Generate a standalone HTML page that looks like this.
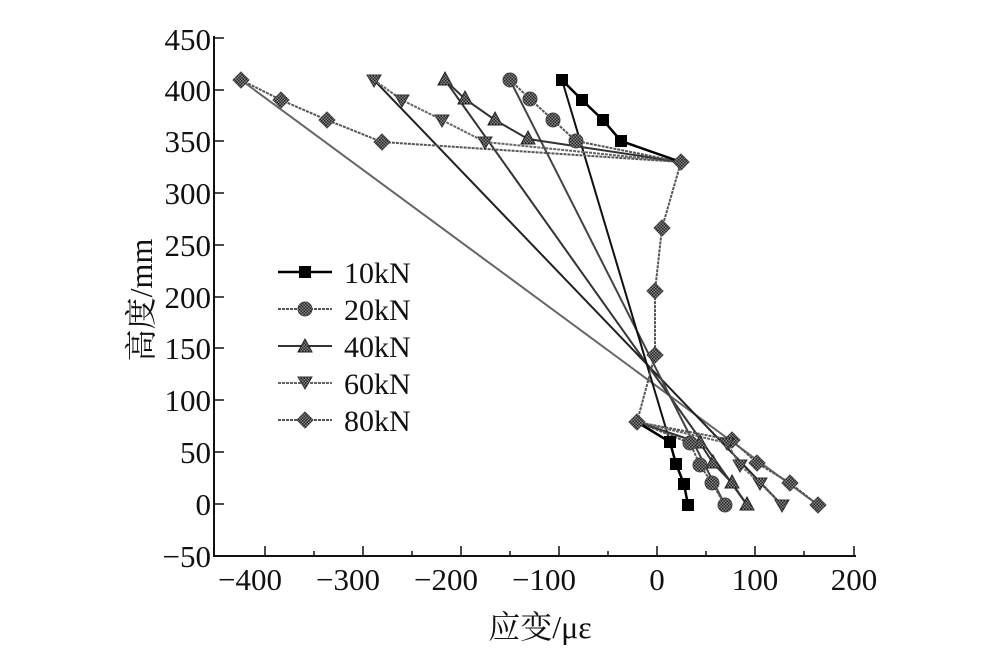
<!DOCTYPE html>
<html><head><meta charset="utf-8"><style>
body{margin:0;background:#fff}
text{font-family:"Liberation Serif","Noto Serif CJK SC",serif;fill:#111}
</style></head><body>
<svg width="1000" height="662" viewBox="0 0 1000 662" xmlns="http://www.w3.org/2000/svg">
<defs>
<pattern id="chk" width="3" height="3" patternUnits="userSpaceOnUse"><rect width="3" height="3" fill="#888"/><rect width="1.5" height="1.5" fill="#222"/><rect x="1.5" y="1.5" width="1.5" height="1.5" fill="#222"/></pattern>
<g id="dia"><polygon points="0,-8 8,0 0,8 -8,0" fill="url(#chk)" stroke="#444" stroke-width="1"/></g>
<g id="cir"><circle r="7" fill="url(#chk)" stroke="#444" stroke-width="1"/></g>
<g id="tri"><polygon points="0,-8 7,5 -7,5" fill="url(#chk)" stroke="#222" stroke-width="1"/></g>
<g id="itri"><polygon points="0,7 7,-5 -7,-5 M0,-7 7,5 -7,5" fill="url(#chk)" stroke="#333" stroke-width="1"/></g>
<g id="sq"><rect x="-6" y="-6" width="12" height="12" fill="#000"/></g>
</defs>
<g stroke="#111" stroke-width="2" fill="none">
<path d="M214,36 V556 H856"/>
</g>
<g stroke="#111" stroke-width="1.5">
<path d="M214,38h10M214,90h10M214,141h10M214,193h10M214,245h10M214,297h10M214,348h10M214,400h10M214,452h10M214,504h10M214,556h10"/>
<path d="M265,556v-10M363,556v-10M461,556v-10M559,556v-10M657,556v-10M755,556v-10M854,556v-10"/>
<path d="M314,556v-5M412,556v-5M510,556v-5M608,556v-5M706,556v-5M804,556v-5"/>
</g>
<g font-size="31" text-anchor="end">
<text x="211" y="50">450</text><text x="211" y="101">400</text><text x="211" y="152">350</text>
<text x="211" y="204">300</text><text x="211" y="256">250</text><text x="211" y="308">200</text>
<text x="211" y="359">150</text><text x="211" y="411">100</text><text x="211" y="463">50</text>
<text x="211" y="515">0</text><text x="211" y="567">−50</text>
</g>
<g font-size="31" text-anchor="middle">
<text x="250" y="590">−400</text><text x="348" y="590">−300</text><text x="446" y="590">−200</text>
<text x="544" y="590">−100</text><text x="657" y="590">0</text><text x="755" y="590">100</text><text x="854" y="590">200</text>
</g>
<text x="540" y="638" font-size="32" text-anchor="middle">应变/με</text>
<text transform="translate(152,300) rotate(-90)" font-size="32" text-anchor="middle">高度/mm</text>

<g fill="none" stroke-width="2">
<path d="M241,80 L818,505" stroke="#666"/>
<path d="M374,80 L782,505" stroke="#222"/>
<path d="M445,80 L747,505" stroke="#333"/>
<path d="M510,80 L725,505" stroke="#444"/>
<path d="M562,80 L670,442" stroke="#111"/>
</g>
<g fill="none" stroke-width="2">
<path d="M241,80 L281,100 L327,120 L382,142 L681,162 L662,228 L655,291 L655,355 L637,422 L732,440 L757,463 L790,483 L818,505" stroke="#555" stroke-dasharray="3,1"/>
<path d="M374,80 L402,100 L442,120 L485,142 L681,162 M637,422 L727,443 L740,465 L760,483 L782,505" stroke="#666" stroke-dasharray="3,1"/>
<path d="M445,80 L465,99 L495,120 L528,139 L681,162 M637,422 L700,443 L713,463 L732,483 L747,505" stroke="#333"/>
<path d="M510,80 L530,99 L553,120 L576,141 L681,162 M637,422 L690,443 L700,465 L712,483 L725,505" stroke="#555" stroke-dasharray="3,1"/>
<path d="M562,80 L582,100 L603,120 L621,141 L681,162 M637,422 L670,442 L676,464 L684,484 L688,505" stroke="#000" stroke-width="2.5"/>
</g>
<g>
<use href="#dia" x="241" y="80"/><use href="#dia" x="281" y="100"/><use href="#dia" x="327" y="120"/><use href="#dia" x="382" y="142"/>
<use href="#dia" x="732" y="440"/><use href="#dia" x="757" y="463"/><use href="#dia" x="790" y="483"/><use href="#dia" x="818" y="505"/>
<use href="#itri" x="374" y="80"/><use href="#itri" x="402" y="100"/><use href="#itri" x="442" y="120"/><use href="#itri" x="485" y="142"/>
<use href="#itri" x="727" y="443"/><use href="#itri" x="740" y="465"/><use href="#itri" x="760" y="483"/><use href="#itri" x="782" y="505"/>
<use href="#tri" x="445" y="80"/><use href="#tri" x="465" y="99"/><use href="#tri" x="495" y="120"/><use href="#tri" x="528" y="139"/>
<use href="#tri" x="700" y="443"/><use href="#tri" x="713" y="463"/><use href="#tri" x="732" y="483"/><use href="#tri" x="747" y="505"/>
<use href="#cir" x="510" y="80"/><use href="#cir" x="530" y="99"/><use href="#cir" x="553" y="120"/><use href="#cir" x="576" y="141"/>
<use href="#cir" x="690" y="443"/><use href="#cir" x="700" y="465"/><use href="#cir" x="712" y="483"/><use href="#cir" x="725" y="505"/>
<use href="#dia" x="681" y="162"/><use href="#dia" x="662" y="228"/><use href="#dia" x="655" y="291"/><use href="#dia" x="655" y="355"/><use href="#dia" x="637" y="422"/>
<use href="#sq" x="562" y="80"/><use href="#sq" x="582" y="100"/><use href="#sq" x="603" y="120"/><use href="#sq" x="621" y="141"/>
<use href="#sq" x="670" y="442"/><use href="#sq" x="676" y="464"/><use href="#sq" x="684" y="484"/><use href="#sq" x="688" y="505"/>
</g>
<g fill="none" stroke-width="2">
<path d="M278,272 H332" stroke="#000" stroke-width="2.5"/>
<path d="M278,309 H332" stroke="#555" stroke-dasharray="3,1"/>
<path d="M278,346 H332" stroke="#333"/>
<path d="M278,383 H332" stroke="#666" stroke-dasharray="3,1"/>
<path d="M278,420 H332" stroke="#555" stroke-dasharray="3,1"/>
</g>
<use href="#sq" x="305" y="272"/><use href="#cir" x="305" y="309"/><use href="#tri" x="305" y="347"/><use href="#itri" x="305" y="382"/><use href="#dia" x="305" y="420"/>
<g font-size="30">
<text x="344" y="283">10kN</text><text x="344" y="320">20kN</text><text x="344" y="357">40kN</text><text x="344" y="394">60kN</text><text x="344" y="431">80kN</text>
</g>
</svg>
</body></html>
